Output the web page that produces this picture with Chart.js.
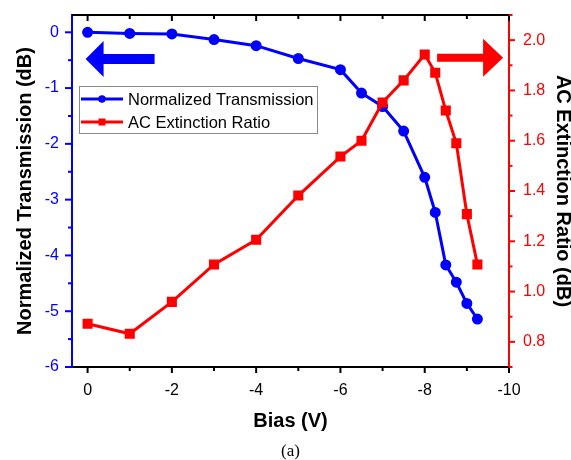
<!DOCTYPE html>
<html>
<head>
<meta charset="utf-8">
<script src="https://cdn.jsdelivr.net/npm/chart.js@4/dist/chart.umd.min.js"></script>
<style>
  body { margin: 0; background: #fff; }
  #wrap { width: 571px; height: 460px; }
</style>
</head>
<body>
<div id="wrap"><canvas id="myChart" width="571" height="460"></canvas></div>
<script>
// bias voltages (V)
let bias = [0, -1, -2, -3, -4, -5, -6, -6.5, -7, -7.5, -8, -8.25, -8.5, -8.75, -9, -9.25];
// normalized transmission (dB), left axis
let transmission = [0, -0.02, -0.03, -0.13, -0.24, -0.47, -0.67, -1.09, -1.33, -1.77, -2.6, -3.23, -4.17, -4.48, -4.86, -5.14];
// AC extinction ratio (dB), right axis
let extinction = [0.872, 0.832, 0.959, 1.108, 1.206, 1.382, 1.537, 1.6, 1.752, 1.84, 1.943, 1.87, 1.72, 1.59, 1.308, 1.108];

let xTicks = [0, -2, -4, -6, -8, -10];
let xMinor = [-1, -3, -5, -7, -9];
let leftTicks = [0, -1, -2, -3, -4, -5, -6];
let leftMinor = [-0.5, -1.5, -2.5, -3.5, -4.5, -5.5];
let rightTicks = [0.8, 1.0, 1.2, 1.4, 1.6, 1.8, 2.0];
let rightMinor = [0.7, 0.9, 1.1, 1.3, 1.5, 1.7, 1.9, 2.1];

const BLUE = '#0000ff';
const RED = '#ff0000';
const FONT = 'Liberation Sans, Arial, sans-serif';

function toTicks(list){
  return list.map(v => ({value: v}));
}

function line(ctx, x1, y1, x2, y2){
  ctx.beginPath();
  ctx.moveTo(x1, y1);
  ctx.lineTo(x2, y2);
  ctx.stroke();
}

// vertical axes: no extra room for the top/bottom labels
function fixedWidth(w){
  return s => { s.width = w; s.paddingTop = 0; s.paddingBottom = 0; };
}

// frame, minor ticks, legend and the two arrows
const decor = {
  id: 'decor',
  afterDraw(chart){
    const {ctx, chartArea: a, scales} = chart;
    const x = scales.x, yl = scales.y, yr = scales.y1;
    ctx.save();

    ctx.lineWidth = 2;
    ctx.strokeStyle = '#000';
    line(ctx, a.left, a.top, a.right, a.top);
    xTicks.forEach(v => {
      const px = x.getPixelForValue(v);
      line(ctx, px, a.bottom, px, a.bottom + 6);
      line(ctx, px, a.top, px, a.top + 6);
    });
    xMinor.forEach(v => {
      const px = x.getPixelForValue(v);
      line(ctx, px, a.bottom, px, a.bottom + 4);
      line(ctx, px, a.top, px, a.top + 4);
    });

    ctx.strokeStyle = BLUE;
    leftTicks.forEach(v => { const py = yl.getPixelForValue(v); line(ctx, a.left - 7, py, a.left, py); });
    leftMinor.forEach(v => { const py = yl.getPixelForValue(v); line(ctx, a.left - 4, py, a.left, py); });

    ctx.strokeStyle = RED;
    rightTicks.forEach(v => { const py = yr.getPixelForValue(v); line(ctx, a.right, py, a.right + 6, py); });
    rightMinor.forEach(v => { const py = yr.getPixelForValue(v); line(ctx, a.right, py, a.right + 3.5, py); });

    // legend
    const lx = 79, ly = 86, lw = 238, lh = 47;
    ctx.fillStyle = '#fff';
    ctx.fillRect(lx, ly, lw, lh);
    ctx.lineWidth = 1;
    ctx.strokeStyle = '#888';
    ctx.strokeRect(lx + 0.5, ly + 0.5, lw, lh);
    chart.data.datasets.forEach((ds, i) => {
      const yy = ly + 13 + i * 23;
      ctx.strokeStyle = ds.borderColor;
      ctx.lineWidth = 3;
      line(ctx, lx + 2, yy, lx + 44, yy);
      ctx.fillStyle = ds.borderColor;
      if (ds.pointStyle === 'rect') {
        ctx.fillRect(lx + 23 - 3.5, yy - 3.5, 7, 7);
      } else {
        ctx.beginPath();
        ctx.arc(lx + 23, yy, 3.8, 0, Math.PI * 2);
        ctx.fill();
      }
      ctx.fillStyle = '#000';
      ctx.font = '16.5px ' + FONT;
      ctx.textBaseline = 'middle';
      ctx.fillText(ds.label, lx + 49, yy + 1);
    });

    // blue arrow pointing left (to the left axis)
    let tx = x.getPixelForValue(0), ty = yl.getPixelForValue(-0.48);
    ctx.fillStyle = BLUE;
    ctx.beginPath();
    ctx.moveTo(tx - 2, ty);
    ctx.lineTo(tx + 16, ty - 18);
    ctx.lineTo(tx + 16, ty - 5);
    ctx.lineTo(tx + 67, ty - 5);
    ctx.lineTo(tx + 67, ty + 5);
    ctx.lineTo(tx + 16, ty + 5);
    ctx.lineTo(tx + 16, ty + 18);
    ctx.closePath();
    ctx.fill();

    // red arrow pointing right (to the right axis)
    tx = x.getPixelForValue(-9.86); ty = yr.getPixelForValue(1.93);
    ctx.fillStyle = RED;
    ctx.beginPath();
    ctx.moveTo(tx, ty);
    ctx.lineTo(tx - 20, ty - 19);
    ctx.lineTo(tx - 20, ty - 4);
    ctx.lineTo(tx - 66, ty - 4);
    ctx.lineTo(tx - 66, ty + 4);
    ctx.lineTo(tx - 20, ty + 4);
    ctx.lineTo(tx - 20, ty + 19);
    ctx.closePath();
    ctx.fill();

    ctx.restore();
  }
};

function renderChart(){
  const ctx = document.getElementById('myChart');

  new Chart(ctx, {
    type: 'line',
    data: {
      datasets: [
        {
          label: 'Normalized Transmission',
          data: bias.map((b, i) => ({x: b, y: transmission[i]})),
          yAxisID: 'y',
          borderColor: BLUE,
          backgroundColor: BLUE,
          borderWidth: 3,
          pointStyle: 'circle',
          pointRadius: 4,
          order: 1
        },
        {
          label: 'AC Extinction Ratio',
          data: bias.map((b, i) => ({x: b, y: extinction[i]})),
          yAxisID: 'y1',
          borderColor: RED,
          backgroundColor: RED,
          borderWidth: 3,
          pointStyle: 'rect',
          pointRadius: 5,
          order: 0
        }
      ]
    },
    options: {
      responsive: false,
      animation: false,
      layout: { padding: { top: 15, left: 0, right: 0, bottom: 0 } },
      plugins: {
        legend: { display: false },
        tooltip: { enabled: false },
        title: {
          display: true,
          text: '(a)',
          position: 'bottom',
          fullSize: false,
          color: '#000',
          font: { family: 'Liberation Serif, Times New Roman, serif', size: 17, weight: 'normal', lineHeight: 1 },
          padding: { top: 4, bottom: 0 }
        }
      },
      scales: {
        x: {
          type: 'linear',
          position: 'bottom',
          reverse: true,
          min: -10,
          max: 0.37,
          afterBuildTicks: s => { s.ticks = toTicks(xTicks); },
          afterFit: s => { s.height = 72; },
          grid: { display: false },
          border: { display: true, color: '#000', width: 2 },
          ticks: { color: '#000', padding: 6, font: { family: FONT, size: 16 } },
          title: {
            display: true,
            text: 'Bias (V)',
            color: '#000',
            font: { family: FONT, size: 20, weight: 'bold' },
            padding: { top: 0, bottom: 6 }
          }
        },
        y: {
          type: 'linear',
          position: 'left',
          min: -6,
          max: 0.31,
          afterBuildTicks: s => { s.ticks = toTicks(leftTicks); },
          afterFit: fixedWidth(72),
          grid: { display: false },
          border: { display: true, color: BLUE, width: 2 },
          ticks: { color: BLUE, padding: 5, font: { family: FONT, size: 16 } },
          title: {
            display: true,
            text: 'Normalized Transmission (dB)',
            color: '#000',
            font: { family: FONT, size: 20, weight: 'bold' },
            padding: { top: 13.4, bottom: 0 }
          }
        },
        y1: {
          type: 'linear',
          position: 'right',
          min: 0.7,
          max: 2.1,
          afterBuildTicks: s => { s.ticks = toTicks(rightTicks); },
          afterFit: fixedWidth(62),
          grid: { display: false },
          border: { display: true, color: RED, width: 2 },
          ticks: { color: RED, padding: 6, font: { family: FONT, size: 16 }, callback: v => v.toFixed(1) },
          title: {
            display: true,
            text: 'AC Extinction Ratio (dB)',
            color: '#000',
            font: { family: FONT, size: 20, weight: 'bold' },
            padding: { top: -3.6, bottom: 0 }
          }
        }
      }
    },
    plugins: [decor]
  });
}

renderChart();
</script>
</body>
</html>
